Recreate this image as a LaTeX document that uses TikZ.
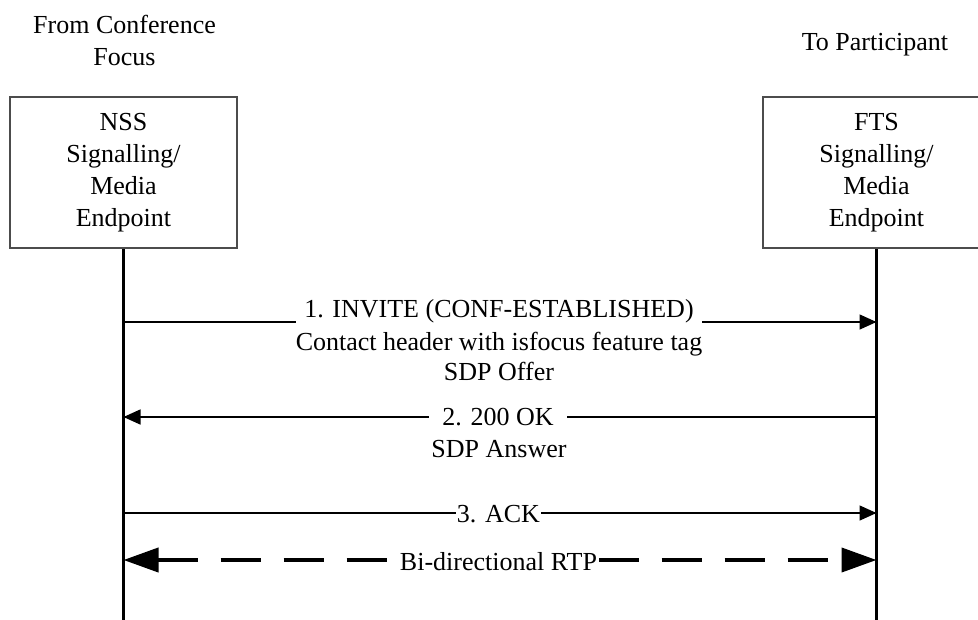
\documentclass[tikz,border=0pt]{standalone}
\usepackage{fontspec}
\setmainfont{Liberation Serif}
\usetikzlibrary{arrows.meta}
\begin{document}
\begin{tikzpicture}[x=1pt,y=-1pt,
  font=\fontsize{26}{32}\selectfont,
  entity/.style={draw=black!70, line width=2pt, minimum width=227pt, minimum height=151pt, align=center, inner sep=0pt},
  title/.style={align=center, inner sep=0pt},
  life/.style={line width=2.5pt},
  msg/.style={line width=1.5pt, -{Triangle[length=17pt,width=15pt]}},
  msgl/.style={line width=1.5pt, {Triangle[length=17pt,width=15pt]}-},
  rtp/.style={line width=4pt, dash pattern=on 40pt off 23pt, {Triangle[length=35pt,width=24pt]}-{Triangle[length=35pt,width=24pt]}},
  lbl/.style={fill=white, inner xsep=8pt, inner ysep=2pt, anchor=base},
  sub/.style={inner sep=0pt, anchor=base}
]
\useasboundingbox (0,0) rectangle (978,619);
\clip (0,0) rectangle (978,619);
\fill[white] (0,0) rectangle (978,619);

% titles
\node[title] (t1) at (124.5,40) {From Conference\\Focus};
\node[sub] (t2) at (875,50) {To Participant};

% entities
\node[entity] (nss) at (123.5,172.5) {NSS\\Signalling/\\Media\\Endpoint};
\node[entity] (fts) at (876.5,172.5) {FTS\\Signalling/\\Media\\Endpoint};

% lifelines
\coordinate (nssEnd) at (123.5,625);
\coordinate (ftsEnd) at (876.5,625);
\draw[life] (nss.south) -- (nssEnd);
\draw[life] (fts.south) -- (ftsEnd);

% message rows
\coordinate (r1) at (0,322);
\coordinate (r2) at (0,417);
\coordinate (r3) at (0,513);
\coordinate (r4) at (0,560);

\draw[msg] (nss.south |- r1) -- (fts.south |- r1);
\draw[msgl] (nss.south |- r2) -- (fts.south |- r2);
\draw[msg] (nss.south |- r3) -- (fts.south |- r3);
\draw[rtp] (nss.south |- r4) -- (fts.south |- r4);

% labels
\node[lbl] (l1) at (499,317) {1. INVITE (CONF-ESTABLISHED)};
\node[sub] (l1b) at (499,350) {Contact header with isfocus feature tag};
\node[sub] (l1c) at (499,380) {SDP Offer};
\node[lbl, inner xsep=13pt] (l2) at (498,425) {2. 200 OK};
\node[sub] (l2b) at (499,457) {SDP Answer};
\node[lbl, inner xsep=1pt] (l3) at (498.5,522) {3. ACK};
\node[lbl, inner xsep=2pt] (l4) at (498.5,570) {Bi-directional RTP};
\end{tikzpicture}
\end{document}
